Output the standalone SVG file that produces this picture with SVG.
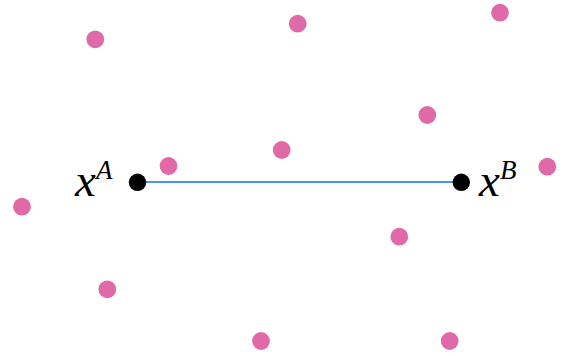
<svg xmlns="http://www.w3.org/2000/svg" width="564" height="356" viewBox="0 0 564 356">
<style>
.p{fill:#df6aa7}
.b{fill:#000}
.m{font-family:'Liberation Serif','Times New Roman',serif;font-style:italic;fill:#000;font-size:47px}
.s{font-size:27px}
</style>
<rect width="564" height="356" fill="#fff"/>
<g id="connectors">
<line x1="137.5" y1="182" x2="461.5" y2="182" stroke="#4499ec" stroke-width="2.2"/>
</g>
<g id="points">
<circle class="p" cx="95.3" cy="39.3" r="8.9"/>
<circle class="p" cx="297.7" cy="23.7" r="8.9"/>
<circle class="p" cx="500" cy="12.7" r="8.9"/>
<circle class="p" cx="427.3" cy="115" r="8.9"/>
<circle class="p" cx="281.7" cy="150" r="8.9"/>
<circle class="p" cx="168.5" cy="166" r="8.9"/>
<circle class="p" cx="547.3" cy="166.7" r="8.9"/>
<circle class="p" cx="22" cy="206.7" r="8.9"/>
<circle class="p" cx="399.3" cy="236.7" r="8.9"/>
<circle class="p" cx="107.3" cy="289.3" r="8.9"/>
<circle class="p" cx="261" cy="341" r="8.9"/>
<circle class="p" cx="449.7" cy="341" r="8.9"/>
</g>
<g id="xA">
<circle class="b" cx="137.5" cy="182.3" r="8.7"/>
<text class="m" x="75" y="195.5">x<tspan class="s" dy="-16.5">A</tspan></text>
</g>
<g id="xB">
<circle class="b" cx="461.3" cy="182.3" r="8.7"/>
<text class="m" x="479" y="195.5">x<tspan class="s" dy="-16.5">B</tspan></text>
</g>
</svg>
